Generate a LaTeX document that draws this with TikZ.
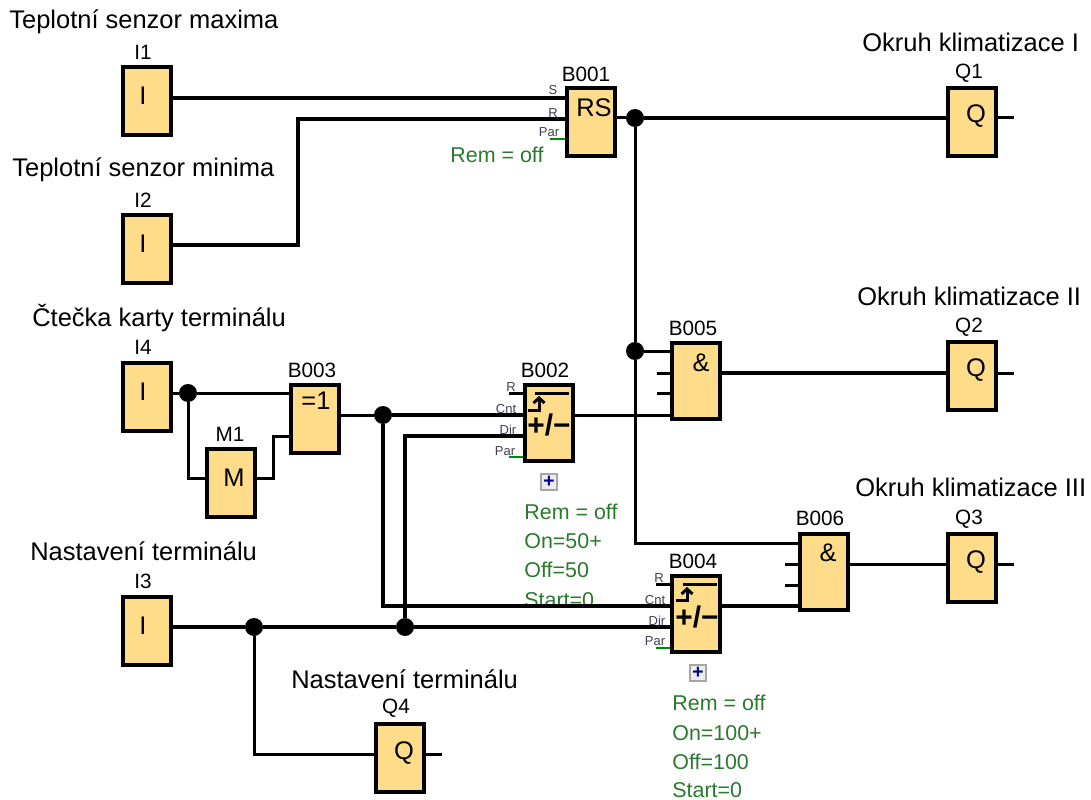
\documentclass[tikz,border=0pt]{standalone}
\usepackage{fontspec}
\usetikzlibrary{arrows.meta}
\setmainfont{Liberation Sans}
\definecolor{blockfill}{HTML}{FFDC8A}
\definecolor{remgreen}{HTML}{2A7A2E}
\definecolor{portgray}{HTML}{404050}
\begin{document}
\begin{tikzpicture}[x=0.02cm,y=-0.02cm, every node/.style={inner sep=0pt},
  block/.style={draw,line width=0.075cm,fill=blockfill,minimum width=0.95cm,minimum height=1.37cm},
  tallblock/.style={block,minimum height=1.53cm},
  title/.style={font=\fontsize{14.5}{17}\selectfont,anchor=west},
  blockname/.style={font=\fontsize{11.8}{14}\selectfont},
  sym/.style={font=\fontsize{14.5}{17}\selectfont},
  param/.style={font=\fontsize{12.2}{15}\selectfont,text=remgreen,anchor=west},
  port/.style={font=\fontsize{7.4}{8}\selectfont,text=portgray},
  wire/.style={line width=0.08cm},
  thinwire/.style={line width=0.06cm},
  parwire/.style={line width=0.055cm,green!55!black},
  dot/.style={circle,fill=black,minimum size=0.36cm},
  plusbox/.style={draw=gray!70,line width=0.05cm,fill=gray!15,minimum size=0.32cm,text=blue!55!black,font=\bfseries\fontsize{11}{11}\selectfont},
  countsym/.style={font=\bfseries\fontsize{17}{17}\selectfont}]
\useasboundingbox (0,0) rectangle (1091,800);
% headings
\node[title] (t1) at (9,22) {Teplotní senzor maxima};
\node[title] (t2) at (12,170) {Teplotní senzor minima};
\node[title] (t3) at (32,318) {Čtečka karty terminálu};
\node[title] (t4) at (30,551) {Nastavení terminálu};
\node[title] (t5) at (291,679) {Nastavení terminálu};
\node[title] (t6) at (862,42) {Okruh klimatizace I};
\node[title] (t7) at (857,296) {Okruh klimatizace II};
\node[title] (t8) at (855,487) {Okruh klimatizace III};
% parameters
\node[param] (rem1) at (450,155) {Rem = off};
\node[param] (rem2) at (524,512) {Rem = off};
\node[param] (on2) at (524,541) {On=50+};
\node[param] (off2) at (524,570) {Off=50};
\node[param] (st2) at (524,600) {Start=0};
\node[param] (rem4) at (672,703) {Rem = off};
\node[param] (on4) at (672,733) {On=100+};
\node[param] (off4) at (672,762) {Off=100};
\node[param] (st4) at (672,790) {Start=0};
% blocks
\node[block] (I1) at (147,101) {};
\node[block] (I2) at (147,249) {};
\node[block] (I4) at (147,397) {};
\node[block] (I3) at (147,631) {};
\node[block] (B001) at (591,122) {};
\node[block] (Q1) at (972,122) {};
\node[tallblock] (B005) at (696,381) {};
\node[block] (Q2) at (972,376) {};
\node[tallblock] (B002) at (549,423) {};
\node[block] (B003) at (315,419) {};
\node[block] (M1) at (231,483) {};
\node[tallblock] (B004) at (696,614) {};
\node[tallblock] (B006) at (824,572) {};
\node[block] (Q3) at (972,568) {};
\node[block] (Q4) at (400,758) {};
% block names
\node[blockname] (nI1) at (143,52) {I1};
\node[blockname] (nI2) at (143,200) {I2};
\node[blockname] (nI4) at (143,347) {I4};
\node[blockname] (nI3) at (143,581) {I3};
\node[blockname] (nB001) at (586,74) {B001};
\node[blockname] (nQ1) at (969,73) {Q1};
\node[blockname] (nB005) at (693,328) {B005};
\node[blockname] (nQ2) at (969,327) {Q2};
\node[blockname] (nB002) at (545,370) {B002};
\node[blockname] (nB003) at (312,370) {B003};
\node[blockname] (nM1) at (230,434) {M1};
\node[blockname] (nB004) at (693,561) {B004};
\node[blockname] (nB006) at (820,518) {B006};
\node[blockname] (nQ3) at (969,519) {Q3};
\node[blockname] (nQ4) at (396,708) {Q4};
% symbols
\node[sym] (sI1) at (143,96) {I};
\node[sym] (sI2) at (143,244) {I};
\node[sym] (sI4) at (143,392) {I};
\node[sym] (sI3) at (143,626) {I};
\node[sym] (sB001) at (594,108) {RS};
\node[sym] (sQ1) at (976,116) {Q};
\node[sym] (sQ2) at (976,370) {Q};
\node[sym] (sQ3) at (976,562) {Q};
\node[sym] (sQ4) at (404,753) {Q};
\node[sym] (sM1) at (234,478) {M};
\node[sym] (sB003) at (316,401) {=1};
\node[sym] (sB005) at (701,363) {\&};
\node[sym] (sB006) at (828,553) {\&};
\node[countsym] (cB002) at (549,425) {+/−};
\node[countsym] (cB004) at (697,617) {+/−};
% ports
\coordinate (B001s) at (B001.west |- 0,98);
\coordinate (B001r) at (B001.west |- 0,119);
\coordinate (B001o) at (B001.east |- 0,118);
\coordinate (B005a) at (B005.west |- 0,351);
\coordinate (B005c) at (B005.west |- 0,415);
\coordinate (B002c) at (B002.west |- 0,415);
\coordinate (B002d) at (B002.west |- 0,436);
\coordinate (B003a) at (B003.west |- 0,393);
\coordinate (B003b) at (B003.west |- 0,436);
\coordinate (B004c) at (B004.west |- 0,606);
\coordinate (B004d) at (B004.west |- 0,627);
\coordinate (B006a) at (B006.west |- 0,543);
\coordinate (B006c) at (B006.west |- 0,606);
\node[port] (pS) at (553,90) {S};
\node[port] (pR) at (553,113) {R};
\node[port] (pPar) at (549,132) {Par};
\node[port] (p2R) at (511,387) {R};
\node[port] (p2C) at (506,409) {Cnt};
\node[port] (p2D) at (508,430) {Dir};
\node[port] (p2P) at (505,451) {Par};
\node[port] (p4R) at (659,578) {R};
\node[port] (p4C) at (655,600) {Cnt};
\node[port] (p4D) at (657,621) {Dir};
\node[port] (p4P) at (655,641) {Par};
% junctions
\node[dot] (j1) at (635,118) {};
\node[dot] (j2) at (635,351) {};
\node[dot] (j3) at (188,393) {};
\node[dot] (j4) at (383,415) {};
\node[dot] (j5) at (254,627) {};
\node[dot] (j6) at (405,627) {};
% wires
\draw[wire] (I1.east |- B001s) -- (B001s);
\draw[wire] (I2.east |- 0,245) -| (298,119) -- (B001r);
\draw[thinwire] (B001o) -- (j1);
\draw[wire] (j1) -- (Q1.west |- j1);
\draw[thinwire] (j1) -- (j2);
\draw[thinwire] (j2) -- (B005a);
\draw[thinwire] (j2) |- (B006a);
\draw[wire] (B005.east |- 0,373) -- (Q2.west |- 0,373);
\draw[thinwire] (B002.east |- B005c) -- (B005c);
\draw[thinwire] (I4.east |- j3) -- (j3);
\draw[thinwire] (j3) -- (B003a);
\draw[thinwire] (j3) |- (M1.west |- 0,478);
\draw[thinwire] (M1.east |- 0,478) -| (273,436) -- (B003b);
\draw[thinwire] (B003.east |- j4) -- (j4);
\draw[wire] (j4) -- (B002c);
\draw[wire] (j4) |- (B004c);
\draw[wire] (j6) |- (B002d);
\draw[wire] (I3.east |- j5) -- (j5);
\draw[wire] (j5) -- (j6);
\draw[wire] (j6) -- (B004d);
\draw[thinwire] (j5) |- (Q4.west |- 0,754);
\draw[wire] (B004.east |- B006c) -- (B006c);
\draw[thinwire] (B006.east |- 0,564) -- (Q3.west |- 0,564);
% open pins
\coordinate (eQ1) at (1014,118);
\coordinate (eQ2) at (1014,373);
\coordinate (eQ3) at (1014,564);
\coordinate (eQ4) at (442,754);
\draw[thinwire] (Q1.east |- eQ1) -- (eQ1);
\draw[thinwire] (Q2.east |- eQ2) -- (eQ2);
\draw[thinwire] (Q3.east |- eQ3) -- (eQ3);
\draw[thinwire] (Q4.east |- eQ4) -- (eQ4);
\draw[thinwire] (B005.west |- 0,373) -- ++(-13,0);
\draw[thinwire] (B005.west |- 0,393) -- ++(-13,0);
\draw[thinwire] (B006.west |- 0,564) -- ++(-13,0);
\draw[thinwire] (B006.west |- 0,585) -- ++(-13,0);
\draw[thinwire] (B002.west |- 0,393) -- ++(-14,0);
\draw[thinwire] (B004.west |- 0,584) -- ++(-14,0);
\draw[parwire] (B001.west |- 0,139) -- ++(-15,0);
\draw[parwire] (B002.west |- 0,457) -- ++(-14,0);
\draw[parwire] (B004.west |- 0,648) -- ++(-14,0);
% edge symbols
\draw[thinwire] (535,393) -- (569,393);
\draw[thinwire,-{Straight Barb[length=0.1cm,width=0.22cm]}] (528,410) -- (539,410) -- (539,396);
\draw[thinwire] (683,584) -- (717,584);
\draw[thinwire,-{Straight Barb[length=0.1cm,width=0.22cm]}] (676,600) -- (687,600) -- (687,587);
% expand buttons
\node[plusbox] (plus2) at (549,482) {+};
\node[plusbox] (plus4) at (698,673) {+};
\end{tikzpicture}
\end{document}
